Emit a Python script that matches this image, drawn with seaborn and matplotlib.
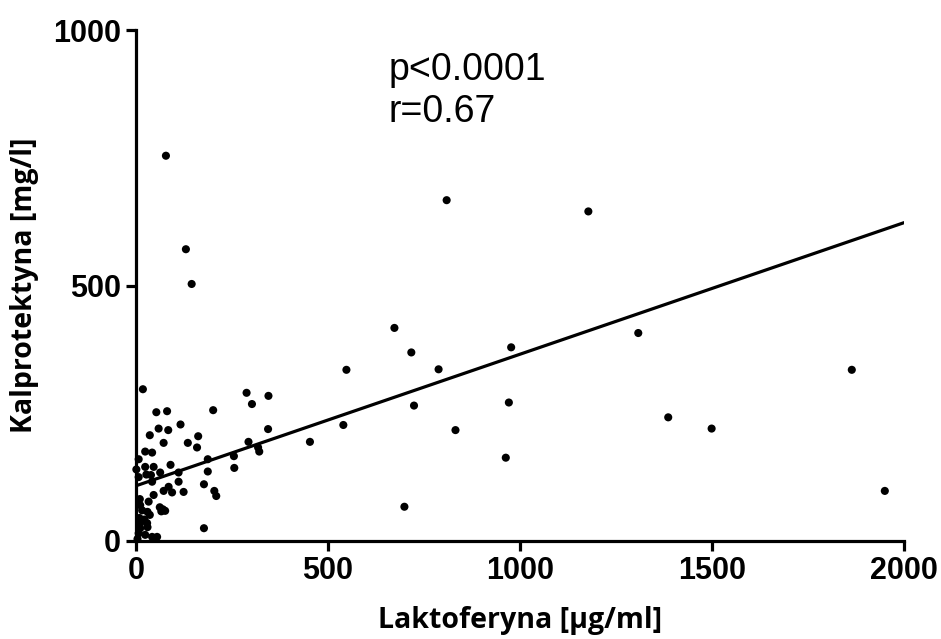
import numpy as np
import pandas as pd
import matplotlib.pyplot as plt
import seaborn as sns

# Laktoferyna [ug/ml] vs Kalprotektyna [mg/l]
lakto = [
    78, 130, 145,
    18, 53, 81, 201, 116, 59, 84, 36, 162,
    72, 135, 159, 24, 42, 7, 90, 187, 255,
    1, 24, 46, 27, 39, 63, 111, 187, 256,
    7, 42, 111, 177, 85, 72, 94, 124, 204, 209,
    46, 10, 33, 62, 70, 76, 66, 11, 16, 30, 36,
    9, 22, 11, 29, 177, 11, 30, 7, 24, 42, 55, 4,
    288, 345, 302, 344, 293, 318, 321,
    540, 453, 548, 809, 1178, 673, 717, 788, 977, 1308,
    724, 971, 832, 963, 699, 1864, 1386, 1499, 1950,
]
kalpro = [
    754, 571, 503,
    297, 252, 254, 256, 228, 220, 217, 207, 205,
    192, 192, 183, 175, 173, 160, 149, 160, 166,
    140, 145, 145, 130, 129, 134, 134, 136, 143,
    125, 116, 116, 111, 106, 98, 95, 96, 98, 88,
    90, 82, 77, 66, 62, 59, 58, 70, 60, 57, 51,
    45, 42, 35, 35, 25, 25, 27, 15, 12, 8, 8, 4,
    290, 284, 268, 219, 194, 183, 175,
    227, 194, 335, 667, 645, 417, 369, 336, 379, 407,
    265, 271, 217, 163, 67, 335, 242, 220, 98,
]

# fitted line as printed on the chart
fit_x = [0, 2000]
fit_intercept = 108
fit_slope = 0.2575

p_text = "p<0.0001"
r_text = "r=0.67"

df = pd.DataFrame({"lakto": lakto, "kalpro": kalpro})
line = pd.DataFrame({"x": fit_x, "y": [fit_intercept + fit_slope * v for v in fit_x]})

sns.set_style("ticks", {"axes.edgecolor": "black", "text.color": "black",
                        "xtick.color": "black", "ytick.color": "black",
                        "axes.labelcolor": "black"})
plt.rcParams["font.family"] = ["Liberation Sans", "DejaVu Sans"]

fig = plt.figure(figsize=(9.41, 6.39), dpi=100)
ax = fig.add_axes([0.1445, 0.1534, 0.8162, 0.7996])

sns.scatterplot(data=df, x="lakto", y="kalpro", ax=ax, color="black",
                s=34, edgecolor="none", clip_on=False, zorder=3)
sns.lineplot(data=line, x="x", y="y", ax=ax, color="black", lw=2.3, zorder=2)

ax.set_xlim(0, 2000)
ax.set_ylim(0, 1000)
ax.set_xticks([0, 500, 1000, 1500, 2000])
ax.set_yticks([0, 500, 1000])

sns.despine(ax=ax)
for side in ["left", "bottom"]:
    ax.spines[side].set_linewidth(2.3)
ax.tick_params(width=2.3, length=7, labelsize=22, pad=4, colors="black")
for lab in ax.get_xticklabels() + ax.get_yticklabels():
    lab.set_fontweight("bold")

ax.set_xlabel("Laktoferyna [μg/ml]", fontsize=20.5, fontweight="bold",
              family=["Open Sans", "DejaVu Sans"], labelpad=14)
ax.set_ylabel("Kalprotektyna [mg/l]", fontsize=20.5, fontweight="bold",
              family=["Open Sans", "DejaVu Sans"], labelpad=10)

ax.text(0.329, 0.957, p_text + "\n" + r_text, transform=ax.transAxes,
        fontsize=27, va="top", ha="left", linespacing=1.2, color="black")

fig.savefig("out.png", dpi=100)
